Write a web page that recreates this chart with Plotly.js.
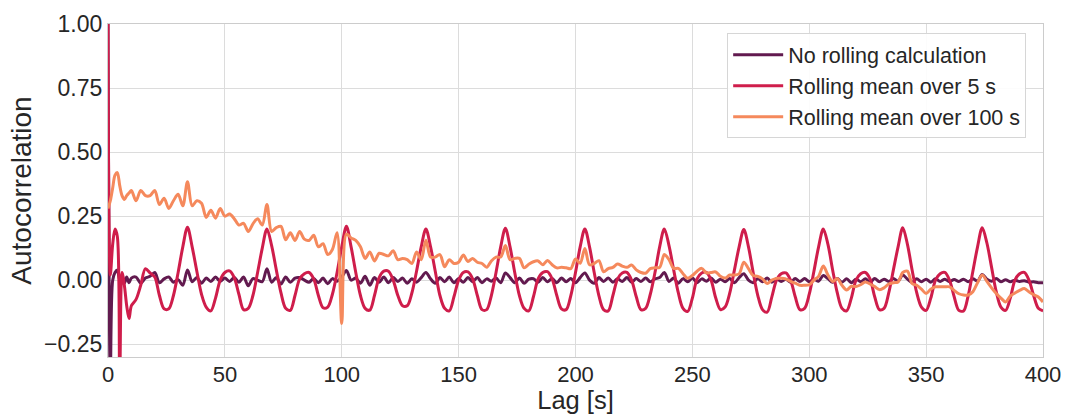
<!DOCTYPE html>
<html>
<head>
<meta charset="utf-8">
<script src="https://cdn.plot.ly/plotly-3.0.1.min.js"></script>
<style>html,body{margin:0;padding:0;background:#fff;}#chart{width:1066px;height:414px;}</style>
</head>
<body>
<div id="chart"></div>
<script>
// Lags [s]: 1 s steps up to 10 s, then 2 s steps up to 400 s
const FINE_END = 10, FINE_STEP = 1, COARSE_STEP = 2, LAG_MAX = 400;
const lags = [];
for (let l = 0; l <= FINE_END; l += FINE_STEP) lags.push(l);
for (let l = FINE_END + COARSE_STEP; l <= LAG_MAX; l += COARSE_STEP) lags.push(l);

const seriesNames = ["No rolling calculation", "Rolling mean over 5 s", "Rolling mean over 100 s"];

// No rolling calculation
const acfRaw = [
  1.0, -0.38, 0.0, 0.03, 0.04, 0.0, 0.02, -0.012, 0.012, -0.01, 0.008,
  0.012, -0.012, 0.008, 0.015, 0.03, -0.01, 0.005, 0.012, -0.008, 0.002, -0.02, 0.04,
  -0.006, 0.01, -0.012, 0.008, -0.005, 0.012, -0.005, 0.008, -0.005, 0.01, -0.008, 0.012, -0.022, 0.006, 0.0, -0.006, 0.045,
  -0.008, 0.01, -0.015, 0.012, -0.008, 0.008, 0.01, 0.0, -0.008, 0.006, -0.01, 0.008, -0.014, 0.006, -0.004, 0.012, 0.038,
  0.0, 0.008, -0.012, 0.015, -0.02, 0.01, -0.008, 0.012, -0.01, 0.01, -0.005, 0.008, -0.012, 0.005, -0.008, 0.01, 0.03,
  0.005, -0.012, 0.01, -0.006, 0.012, -0.01, 0.006, -0.008, 0.01, -0.006, 0.01, -0.01, 0.005, -0.004, 0.008, -0.01, 0.028,
  0.01, -0.01, 0.008, -0.012, 0.004, 0.006, -0.008, 0.01, -0.006, 0.006, -0.01, 0.008, -0.006, 0.006, -0.01, 0.01, 0.028,
  0.0, -0.012, 0.01, -0.005, 0.008, -0.008, 0.005, -0.005, 0.01, -0.008, 0.006, -0.005, 0.008, -0.006, 0.005, 0.01, 0.03,
  -0.005, 0.008, -0.012, 0.006, -0.006, 0.008, -0.01, 0.005, -0.004, 0.008, -0.008, 0.004, -0.006, 0.006, -0.01, 0.01, 0.025,
  0.0, -0.01, 0.006, -0.006, 0.008, -0.008, 0.005, -0.005, 0.004, -0.008, 0.006, -0.005, 0.006, -0.006, 0.004, -0.004, 0.018,
  0.006, -0.008, 0.006, -0.008, 0.005, -0.01, 0.004, -0.006, 0.005, -0.008, 0.006, -0.006, 0.004, -0.005, 0.006, -0.004, 0.02,
  0.004, -0.008, 0.005, -0.006, 0.004, -0.008, 0.005, -0.005, 0.004, -0.006, 0.003, -0.005, 0.004, -0.006, 0.005, -0.004, 0.022,
  0.004, -0.004, 0.006, -0.006, 0.002, -0.006, 0.0, -0.005, -0.002, -0.008, -0.006, -0.01, -0.01
];

// Rolling mean over 5 s
const acfMean5 = [
  1.0, 0.02, 0.14, 0.2, 0.17, -0.4, 0.03, -0.02, -0.1, -0.15, -0.1,
  -0.075, -0.02, 0.045, 0.028, 0.012, -0.06, -0.112, -0.112, -0.06, 0.03, 0.13, 0.207,
  0.13, 0.035, -0.055, -0.105, -0.12, -0.07, 0.0, 0.03, 0.036, 0.01, -0.055, -0.115, -0.11, -0.06, 0.03, 0.125, 0.2,
  0.135, 0.04, -0.05, -0.11, -0.118, -0.06, 0.005, 0.025, 0.03, 0.005, -0.06, -0.108, -0.105, -0.055, 0.03, 0.13, 0.21,
  0.13, 0.03, -0.06, -0.11, -0.117, -0.06, 0.01, 0.035, 0.035, 0.0, -0.06, -0.1, -0.1, -0.05, 0.035, 0.13, 0.2,
  0.13, 0.035, -0.06, -0.11, -0.12, -0.065, 0.0, 0.03, 0.032, 0.005, -0.06, -0.115, -0.115, -0.06, 0.03, 0.13, 0.203,
  0.13, 0.03, -0.06, -0.11, -0.12, -0.065, 0.005, 0.03, 0.033, 0.005, -0.06, -0.112, -0.115, -0.06, 0.03, 0.13, 0.2,
  0.13, 0.03, -0.06, -0.115, -0.12, -0.06, 0.005, 0.028, 0.03, 0.0, -0.065, -0.115, -0.11, -0.055, 0.03, 0.13, 0.2,
  0.135, 0.04, -0.05, -0.11, -0.122, -0.07, 0.005, 0.028, 0.03, 0.0, -0.07, -0.115, -0.105, -0.05, 0.04, 0.13, 0.198,
  0.13, 0.03, -0.06, -0.115, -0.125, -0.065, 0.0, 0.025, 0.028, 0.0, -0.065, -0.115, -0.11, -0.055, 0.035, 0.13, 0.2,
  0.14, 0.04, -0.05, -0.11, -0.12, -0.07, 0.0, 0.025, 0.03, 0.005, -0.065, -0.115, -0.11, -0.05, 0.04, 0.13, 0.205,
  0.14, 0.04, -0.05, -0.105, -0.118, -0.07, 0.0, 0.025, 0.03, 0.0, -0.065, -0.118, -0.12, -0.06, 0.035, 0.13, 0.205,
  0.145, 0.05, -0.045, -0.105, -0.118, -0.07, 0.0, 0.025, 0.03, 0.0, -0.06, -0.11, -0.12
];

// Rolling mean over 100 s
const acfMean100 = [
  0.28, 0.31, 0.36, 0.41, 0.42, 0.37, 0.33, 0.315, 0.33, 0.34, 0.35,
  0.31, 0.35, 0.33, 0.33, 0.35, 0.295, 0.32, 0.28, 0.31, 0.335, 0.29, 0.384,
  0.29, 0.31, 0.3, 0.245, 0.273, 0.242, 0.28, 0.25, 0.258, 0.24, 0.215, 0.222, 0.19, 0.22, 0.24, 0.215, 0.295,
  0.19, 0.205, 0.21, 0.158, 0.185, 0.155, 0.19, 0.16, 0.155, 0.175, 0.13, 0.142, 0.1, 0.12, 0.185, -0.169, 0.18,
  0.165, 0.155, 0.13, 0.085, 0.11, 0.075, 0.105, 0.1, 0.095, 0.115, 0.08, 0.085, 0.08, 0.065, 0.11, 0.08, 0.156,
  0.09, 0.09, 0.1, 0.052, 0.08, 0.065, 0.07, 0.098, 0.073, 0.085, 0.07, 0.065, 0.05, 0.075, 0.09, 0.09, 0.135,
  0.08, 0.085, 0.085, 0.048, 0.062, 0.072, 0.075, 0.06, 0.077, 0.06, 0.048, 0.05, 0.048, 0.045, 0.083, 0.066, 0.124,
  0.06, 0.065, 0.076, 0.033, 0.045, 0.05, 0.063, 0.055, 0.05, 0.059, 0.04, 0.03, 0.027, 0.045, 0.048, 0.05, 0.1,
  0.08, 0.046, 0.046, 0.025, 0.007, 0.018, 0.035, 0.046, 0.028, 0.03, 0.032, 0.015, 0.008, 0.02, 0.02, 0.025, 0.07,
  0.045, 0.018, 0.015, 0.005, -0.013, 0.0, 0.007, 0.007, 0.004, -0.005, -0.012, -0.02, -0.02, -0.018, 0.0, 0.015, 0.055,
  0.02, -0.005, 0.006, -0.02, -0.038, -0.024, -0.025, -0.018, -0.007, -0.015, -0.025, -0.037, -0.03, -0.015, -0.01, -0.007, 0.03,
  0.035, -0.013, -0.02, -0.035, -0.052, -0.035, -0.026, -0.026, -0.026, -0.026, -0.04, -0.053, -0.058, -0.058, -0.045, -0.01, 0.02,
  -0.005, -0.03, -0.052, -0.07, -0.085, -0.062, -0.05, -0.04, -0.033, -0.045, -0.057, -0.066, -0.085
];

const seriesColors = ["#621a4f", "#cf1d4b", "#f5895c"];
const xTicks = [0, 50, 100, 150, 200, 250, 300, 350, 400];
const yTicks = [-0.25, 0, 0.25, 0.5, 0.75, 1.0];

const allSeries = [acfRaw, acfMean5, acfMean100];
const traces = allSeries.map((vals, i) => ({
  type: "scatter",
  mode: "lines",
  x: lags,
  y: vals,
  name: seriesNames[i],
  line: {color: seriesColors[i], width: 3, shape: "spline", smoothing: 0.9},
  hoverinfo: "x+y+name"
}));

const fontFam = "Liberation Sans, Arial, Helvetica, sans-serif";
const textColor = "#262626";
const gridColor = "#dcdcdc";

const layout = {
  width: 1066,
  height: 414,
  margin: {l: 108, r: 23, t: 24, b: 57},
  paper_bgcolor: "#ffffff",
  plot_bgcolor: "#ffffff",
  font: {family: fontFam, color: textColor, size: 23},
  showlegend: true,
  legend: {
    x: 0.982, y: 0.972, xanchor: "right", yanchor: "top",
    bgcolor: "rgba(255,255,255,0.9)", bordercolor: "#d6d6d6", borderwidth: 1,
    font: {family: fontFam, size: 21.5, color: textColor},
    itemwidth: 50,
    tracegroupgap: 0
  },
  xaxis: {
    range: [0, 400],
    tickvals: xTicks,
    ticks: "",
    ticklabelstandoff: -3,
    showgrid: true, gridcolor: gridColor, gridwidth: 1,
    zeroline: false,
    showline: true, mirror: true, linecolor: "#cccccc", linewidth: 1.2,
    tickfont: {family: fontFam, size: 22, color: textColor},
    title: {text: "Lag [s]", font: {family: fontFam, size: 25.5, color: textColor}, standoff: 0}
  },
  yaxis: {
    range: [-0.3, 1.0],
    tickvals: yTicks,
    tickformat: ".2f",
    ticks: "",
    showgrid: true, gridcolor: gridColor, gridwidth: 1,
    zeroline: false,
    showline: true, mirror: true, linecolor: "#cccccc", linewidth: 1.2,
    tickfont: {family: fontFam, size: 23, color: textColor},
    title: {text: "Autocorrelation", font: {family: fontFam, size: 28, color: textColor}, standoff: 4}
  }
};

Plotly.newPlot("chart", traces, layout, {displayModeBar: false});
</script>
</body>
</html>
